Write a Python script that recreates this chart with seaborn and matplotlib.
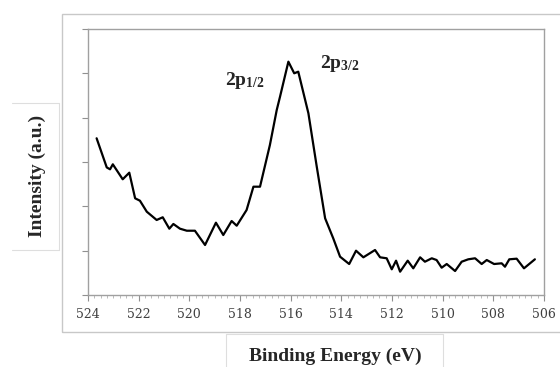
import matplotlib
matplotlib.use("Agg")
import matplotlib.pyplot as plt
import seaborn as sns
import pandas as pd
from matplotlib.patches import Rectangle
from matplotlib.lines import Line2D
from matplotlib.ticker import MultipleLocator

energy = [523.66, 523.26, 523.13, 523.02, 522.63, 522.37, 522.14, 521.95, 521.68, 521.29,
          521.05, 520.79, 520.63, 520.37, 520.10, 519.78, 519.38, 518.95, 518.66, 518.33,
          518.13, 517.74, 517.47, 517.21, 516.82, 516.55, 516.42, 516.09, 515.86, 515.70,
          515.30, 514.97, 514.64, 514.32, 514.05, 513.69, 513.42, 513.13, 512.67, 512.47,
          512.21, 512.01, 511.84, 511.68, 511.38, 511.16, 510.89, 510.70, 510.43, 510.24,
          510.04, 509.84, 509.51, 509.25, 508.99, 508.72, 508.46, 508.26, 507.97, 507.67,
          507.54, 507.37, 507.08, 506.79, 506.36]
intensity = [3.535, 2.878, 2.835, 2.948, 2.610, 2.759, 2.181, 2.127, 1.879, 1.692,
             1.753, 1.496, 1.602, 1.496, 1.450, 1.450, 1.128, 1.631, 1.353, 1.669,
             1.563, 1.917, 2.443, 2.443, 3.383, 4.173, 4.473, 5.263, 5.001, 5.037,
             4.099, 2.894, 1.730, 1.279, 0.864, 0.699, 0.999, 0.850, 1.015, 0.850,
             0.828, 0.580, 0.774, 0.526, 0.774, 0.602, 0.850, 0.751, 0.828, 0.789,
             0.616, 0.699, 0.541, 0.751, 0.805, 0.828, 0.699, 0.789, 0.699, 0.715,
             0.638, 0.805, 0.819, 0.602, 0.805]
x_ticks = [524, 522, 520, 518, 516, 514, 512, 510, 508, 506]
peak_labels = [r"$\mathbf{2p_{1/2}}$", r"$\mathbf{2p_{3/2}}$"]
peak_pos = [(518.59, 4.74), (514.84, 5.12)]

df = pd.DataFrame({"Binding Energy (eV)": energy, "Intensity (a.u.)": intensity})

sns.set_style("white")
plt.rcParams["mathtext.fontset"] = "custom"
plt.rcParams["mathtext.rm"] = "Liberation Serif:bold"
plt.rcParams["mathtext.bf"] = "Liberation Serif:bold"
plt.rcParams["mathtext.it"] = "Liberation Serif:bold"

fig = plt.figure(figsize=(5.6, 3.67), dpi=100)
W, H = 560, 367
ax = fig.add_axes([88 / W, 1 - 295 / H, (544 - 88) / W, (295 - 29) / H])

sns.lineplot(data=df, x="Binding Energy (eV)", y="Intensity (a.u.)", ax=ax,
             color="black", linewidth=1.6, estimator=None)

ax.set_xlim(524, 506)
ax.set_ylim(0, 6)
ax.set_xticks(x_ticks)
ax.set_xticklabels([str(t) for t in x_ticks], fontsize=9, family="DejaVu Serif", color="#404040")
ax.xaxis.set_minor_locator(MultipleLocator(0.25))
ax.set_yticks(range(0, 7))
ax.set_yticklabels([])
ax.tick_params(axis="x", which="major", direction="out", length=4, width=0.8, color="#909090", pad=5, bottom=True)
ax.tick_params(axis="x", which="minor", direction="out", length=2.5, width=0.6, color="#b0b0b0", bottom=True)
ax.tick_params(axis="y", which="major", direction="out", length=4.5, width=0.8, color="#909090", left=True)
for s in ax.spines.values():
    s.set_color("#a0a0a0")
    s.set_linewidth(1.0)
ax.set_xlabel("")
ax.set_ylabel("")

for lab, (px, py) in zip(peak_labels, peak_pos):
    ax.text(px, py, lab, fontsize=14, ha="left", va="baseline")

# outer chart frame
fig.patches.append(Rectangle((62 / W, 1 - 332 / H), (600 - 62) / W, (332 - 14) / H,
                             transform=fig.transFigure, fill=False, edgecolor="#c8c8c8", linewidth=1.0))

def fline(x0, y0, x1, y1):
    fig.lines.append(Line2D([x0 / W, x1 / W], [1 - y0 / H, 1 - y1 / H], transform=fig.transFigure,
                            color="#dedede", linewidth=0.8))

# y title box (top, bottom, right)
fline(12, 103, 59, 103)
fline(12, 250, 59, 250)
fline(59, 103, 59, 250)
# x title box (top, left, right)
fline(226, 334, 443, 334)
fline(226, 334, 226, 367)
fline(443, 334, 443, 367)

fig.text(37 / W, 1 - 176 / H, "Intensity (a.u.)", rotation=90, ha="center", va="center",
         fontsize=14, fontweight="bold", family="Liberation Serif")
fig.text(335 / W, 1 - 356 / H, "Binding Energy (eV)", ha="center", va="center",
         fontsize=14, fontweight="bold", family="Liberation Serif")

fig.savefig("out.png", dpi=100)
